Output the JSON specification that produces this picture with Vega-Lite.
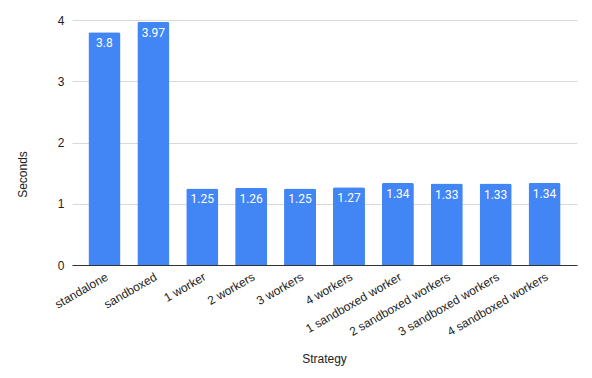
{
  "$schema": "https://vega.github.io/schema/vega-lite/v6.json",
  "width": 505,
  "height": 245,
  "autosize": {"type": "none"},
  "padding": {"left": 72, "top": 20, "right": 15, "bottom": 113},
  "background": "white",
  "config": {"view": {"stroke": null}, "font": "Liberation Sans"},
  "data": {"values": [
    {"Strategy": "standalone", "Seconds": 3.8},
    {"Strategy": "sandboxed", "Seconds": 3.97},
    {"Strategy": "1 worker", "Seconds": 1.25},
    {"Strategy": "2 workers", "Seconds": 1.26},
    {"Strategy": "3 workers", "Seconds": 1.25},
    {"Strategy": "4 workers", "Seconds": 1.27},
    {"Strategy": "1 sandboxed worker", "Seconds": 1.34},
    {"Strategy": "2 sandboxed workers", "Seconds": 1.33},
    {"Strategy": "3 sandboxed workers", "Seconds": 1.33},
    {"Strategy": "4 sandboxed workers", "Seconds": 1.34}
  ]},
  "encoding": {
    "x": {
      "field": "Strategy", "type": "nominal", "sort": null,
      "scale": {"paddingInner": 0.345, "paddingOuter": 0.336},
      "axis": {
        "title": "Strategy", "labelAngle": -30, "labelFontSize": 12, "labelColor": "#222",
        "ticks": false, "domainColor": "#333", "domainWidth": 1, "labelPadding": 6, "labelDx": 6,
        "titleFontSize": 12, "titleFontWeight": "normal", "titleColor": "#222",
        "titleX": 252, "titleY": 93, "titleBaseline": "middle"
      }
    },
    "y": {
      "field": "Seconds", "type": "quantitative",
      "scale": {"domain": [0, 4], "nice": false},
      "axis": {
        "title": "Seconds", "values": [0, 1, 2, 3, 4], "labelOverlap": false, "labelFontSize": 12, "labelColor": "#222",
        "ticks": false, "domain": false, "gridColor": "#d9d9d9", "labelPadding": 8,
        "titleFontSize": 12, "titleFontWeight": "normal", "titleColor": "#222",
        "titleX": -50, "titleY": 154, "titleBaseline": "middle", "titleAngle": -90
      }
    }
  },
  "layer": [
    {"mark": {"type": "bar", "color": "#4285F4", "cornerRadiusTopLeft": 2, "cornerRadiusTopRight": 2}},
    {"mark": {"type": "text", "color": "white", "baseline": "middle", "dy": 11, "font": "Roboto", "fontSize": 12, "fontWeight": "normal"},
     "encoding": {"text": {"field": "Seconds", "type": "quantitative"}}}
  ]
}
